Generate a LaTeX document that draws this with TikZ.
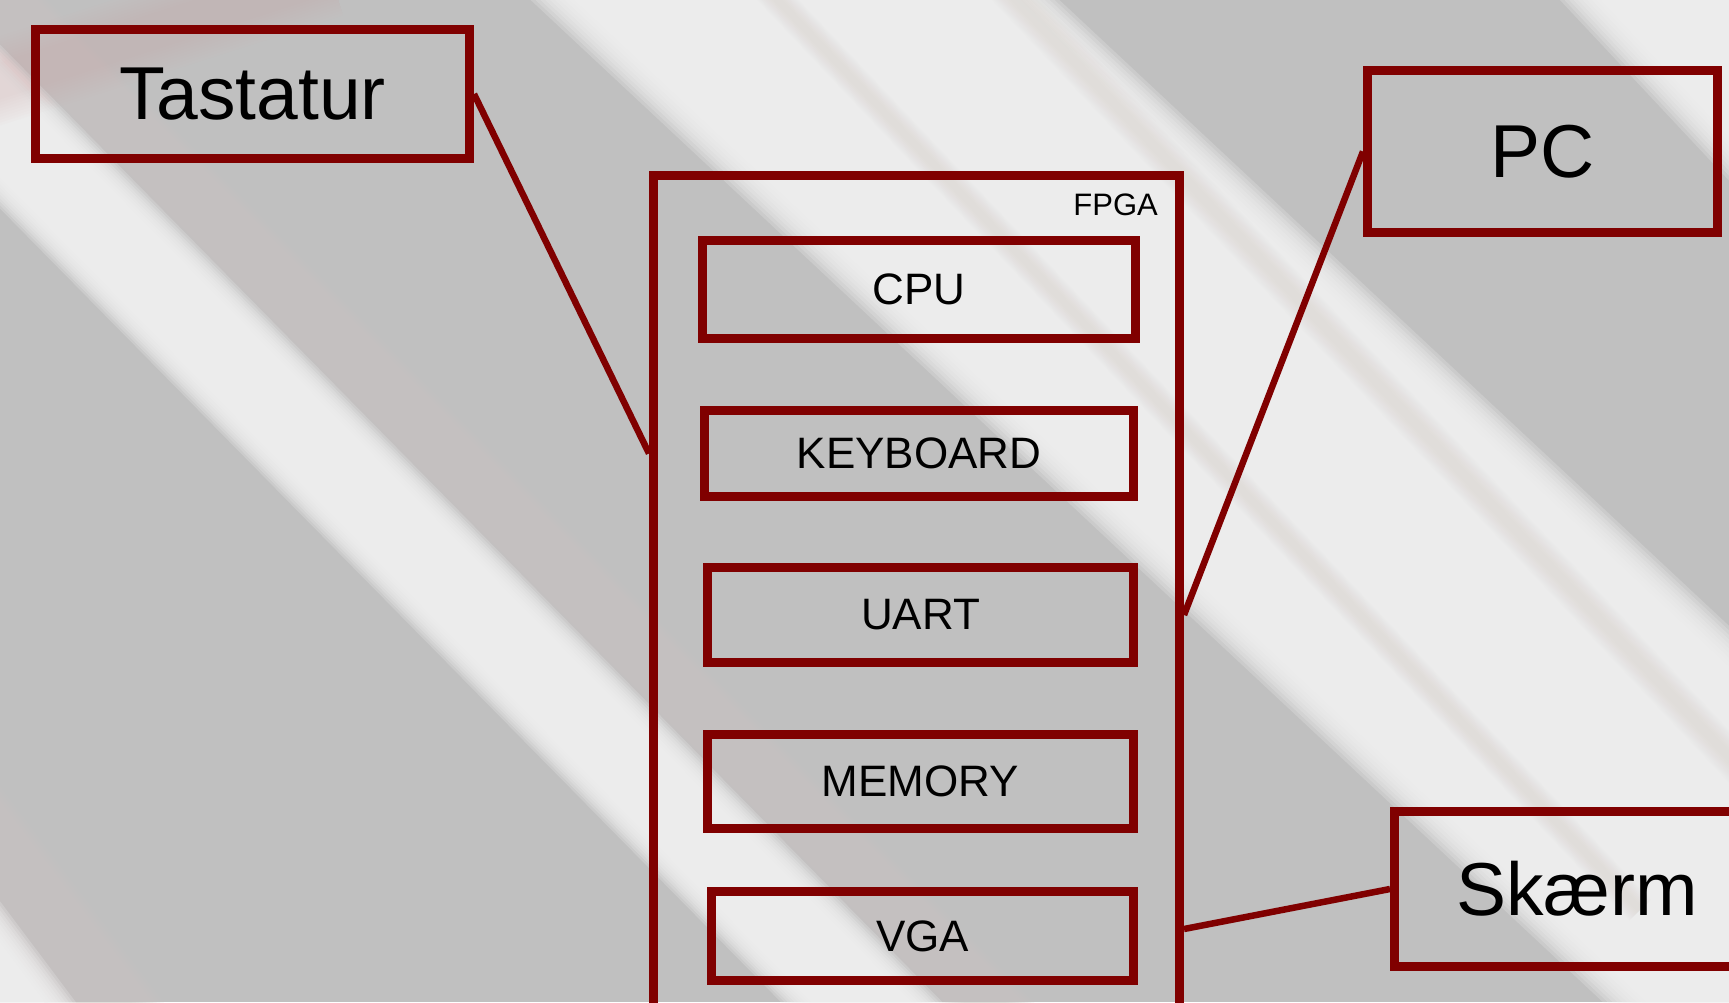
\documentclass[tikz,border=0pt]{standalone}
\usepackage{fontspec}
\setmainfont{Liberation Sans}
\usetikzlibrary{calc}
\definecolor{maroonc}{HTML}{800000}
\definecolor{bggray}{HTML}{C0C0C0}
\definecolor{glare}{HTML}{F3F3F3}
\definecolor{beigec}{HTML}{CFCAC4}
\definecolor{pinkc}{HTML}{DDB0B0}
\newcommand\softstripe[6]{% color, width, spread, opacity per pass, start, end
  \foreach \k in {0,...,9}{%
    \draw[#1, line width={#2+#3-\k*#3/4.5}, opacity=#4, line cap=butt] #5 -- #6;}%
}
\begin{document}
\begin{tikzpicture}[x=1pt, y=-1pt,
  box/.style={draw=maroonc, line width=9pt, rectangle, inner sep=0pt, text=black},
  bigtext/.style={font=\fontsize{75}{90}\selectfont},
  smalltext/.style={font=\fontsize{44}{52}\selectfont},
  conn/.style={draw=maroonc, line width=6.5pt}]
\useasboundingbox (0,0) rectangle (1729,1002);
\clip (0,0) rectangle (1729,1002);
% background
\fill[bggray] (0,0) rectangle (1729,1002);
% band A (wide glare)
\softstripe{glare}{331pt}{30pt}{0.22}{(367,-400)}{(1972,1100)}
\softstripe{beigec}{18pt}{12pt}{0.04}{(560,-230)}{(1640,910)}
\softstripe{beigec}{22pt}{14pt}{0.04}{(800,-230)}{(1770,800)}
% band B (top right corner)
\softstripe{glare}{205pt}{30pt}{0.22}{(1440,-300)}{(2000,298)}
% band C (left streak)
\softstripe{beigec}{50pt}{20pt}{0.09}{(-100,-100)}{(1081,1100)}
\softstripe{glare}{93pt}{22pt}{0.22}{(-223,-100)}{(958,1100)}
% band D (bottom left)
\softstripe{beigec}{70pt}{25pt}{0.09}{(-153,663)}{(240,1182)}
\softstripe{glare}{100pt}{25pt}{0.22}{(-300,606)}{(120,1165)}
% band E (pink tint)
\softstripe{pinkc}{60pt}{25pt}{0.035}{(-50,97)}{(330,-25)}
% nodes
\node[box, bigtext, minimum width=434, minimum height=129] (tast) at (252.5,94) {Tastatur};
\node[box, minimum width=526, minimum height=860] (fpga) at (916.5,605.5) {};
\node[anchor=base east, inner sep=0pt, font=\fontsize{31}{36}\selectfont] (fpgalbl) at (1158,215) {FPGA};
\node[box, smalltext, minimum width=433, minimum height=98] (cpu) at (919,289.5) {CPU};
\node[box, smalltext, minimum width=429, minimum height=86] (kbd) at (919,453.5) {KEYBOARD};
\node[box, smalltext, minimum width=426, minimum height=95] (uart) at (920.5,615) {UART};
\node[box, smalltext, minimum width=426, minimum height=94] (mem) at (920.5,781.5) {MEMORY};
\node[box, smalltext, minimum width=422, minimum height=89] (vga) at (922.5,936) {VGA};
\node[box, bigtext, minimum width=350, minimum height=162] (pc) at (1542.5,151.5) {PC};
\node[box, bigtext, minimum width=365, minimum height=155] (skaerm) at (1577,889) {Skærm};
% connectors
\draw[conn] (tast.east) -- (fpga.west |- kbd.center);
\draw[conn] (pc.west) -- (fpga.east |- uart.center);
\draw[conn] (skaerm.west) -- ($(fpga.east |- vga.center)+(0,-7)$);
\end{tikzpicture}
\end{document}
